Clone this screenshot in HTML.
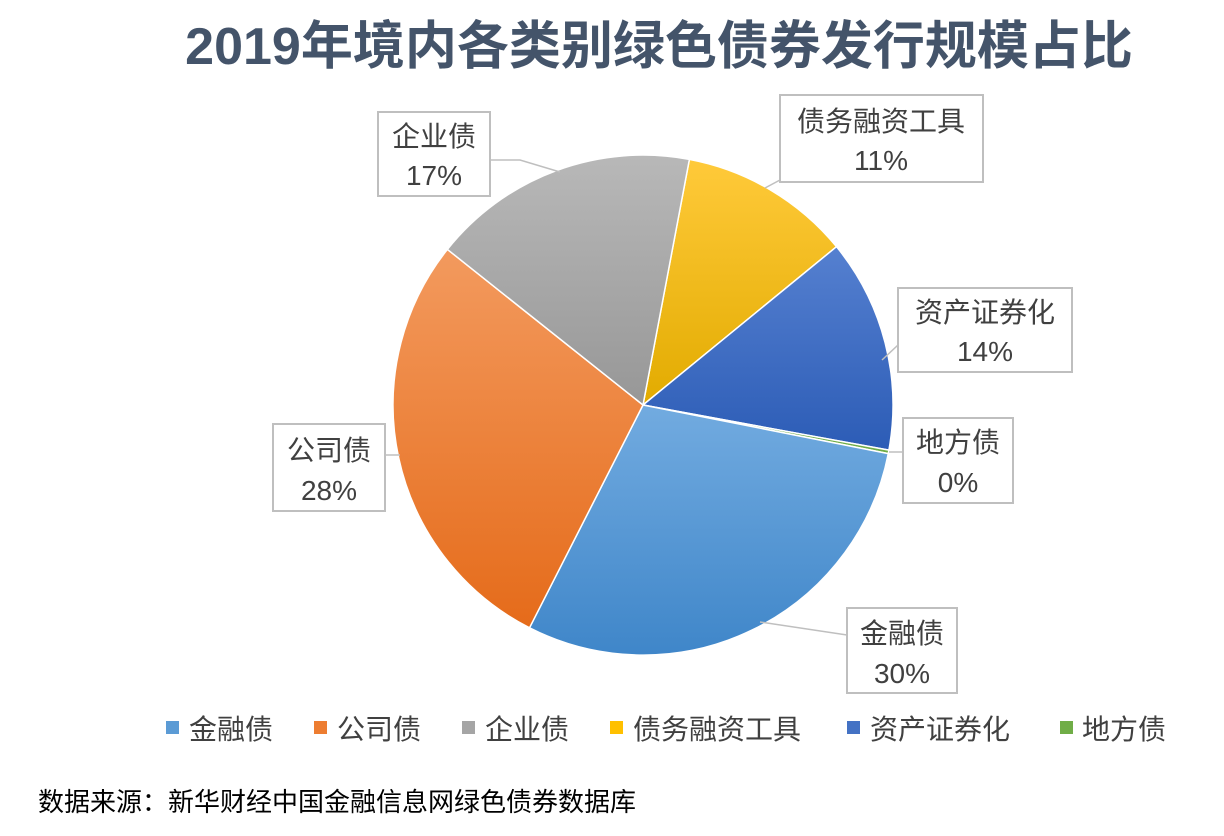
<!DOCTYPE html>
<html><head><meta charset="utf-8"><style>
body{margin:0;background:#fff;width:1224px;height:836px;overflow:hidden}
svg{display:block}
text{font-family:"Liberation Sans","Noto Sans CJK SC",sans-serif}
</style></head><body>
<svg width="1224" height="836" viewBox="0 0 1224 836">
<defs>
<linearGradient id="gb" x1="0" y1="0" x2="0" y2="1"><stop offset="0" stop-color="#72abe0"/><stop offset="1" stop-color="#3f86c9"/></linearGradient>
<linearGradient id="go" x1="0" y1="0" x2="0" y2="1"><stop offset="0" stop-color="#f39a5e"/><stop offset="1" stop-color="#e56b1a"/></linearGradient>
<linearGradient id="gg" x1="0" y1="0" x2="0" y2="1"><stop offset="0" stop-color="#b8b8b8"/><stop offset="1" stop-color="#979797"/></linearGradient>
<linearGradient id="gy" x1="0" y1="0" x2="0" y2="1"><stop offset="0" stop-color="#ffca3a"/><stop offset="1" stop-color="#e2ab00"/></linearGradient>
<linearGradient id="gd" x1="0" y1="0" x2="0" y2="1"><stop offset="0" stop-color="#5580d0"/><stop offset="1" stop-color="#2c5cb6"/></linearGradient>
</defs>
<text x="659" y="64" text-anchor="middle" font-size="52" font-weight="bold" fill="#44546a">2019年境内各类别绿色债券发行规模占比</text>
<g stroke="#fff" stroke-width="1.5">
<path d="M643,405 L689.4,159.4 A250,250 0 0 1 836.5,246.7 Z" fill="url(#gy)"/>
<path d="M643,405 L836.5,246.7 A250,250 0 0 1 888.9,450.1 Z" fill="url(#gd)"/>
<path d="M643,405 L888.9,450.1 A250,250 0 0 1 888.3,453.6 Z" fill="#70ad47"/>
<path d="M643,405 L888.3,453.6 A250,250 0 0 1 529.5,627.8 Z" fill="url(#gb)"/>
<path d="M643,405 L529.5,627.8 A250,250 0 0 1 447.4,249.4 Z" fill="url(#go)"/>
<path d="M643,405 L447.4,249.4 A250,250 0 0 1 689.4,159.4 Z" fill="url(#gg)"/>
</g>
<g stroke="#bfbfbf" stroke-width="1.5" fill="none">
<polyline points="490,160 520,160 560,172"/>
<polyline points="780,180 765,188"/>
<polyline points="898,345 882,360"/>
<polyline points="903,452 889,452"/>
<polyline points="385,455 400,455"/>
<polyline points="847,635 760,622"/>
</g>
<g fill="#fff" stroke="#bfbfbf" stroke-width="2">
<rect x="378" y="112" width="112" height="84"/>
<rect x="780" y="95" width="203" height="87"/>
<rect x="898" y="288" width="174" height="84"/>
<rect x="903" y="418" width="110" height="85"/>
<rect x="273" y="424" width="112" height="87"/>
<rect x="847" y="608" width="110" height="85"/>
</g>
<g font-size="28" fill="#404040" text-anchor="middle">
<text x="434" y="146">企业债</text><text x="434" y="185">17%</text>
<text x="881" y="131">债务融资工具</text><text x="881" y="170">11%</text>
<text x="985" y="322">资产证券化</text><text x="985" y="361">14%</text>
<text x="958" y="452">地方债</text><text x="958" y="492">0%</text>
<text x="329" y="460">公司债</text><text x="329" y="500">28%</text>
<text x="902" y="643">金融债</text><text x="902" y="683">30%</text>
</g>
<g font-size="28" fill="#404040">
<rect x="166" y="721" width="13" height="13" fill="#5b9bd5"/><text x="189" y="739">金融债</text>
<rect x="314" y="721" width="13" height="13" fill="#ed7d31"/><text x="337" y="739">公司债</text>
<rect x="462" y="721" width="13" height="13" fill="#a5a5a5"/><text x="485" y="739">企业债</text>
<rect x="610" y="721" width="13" height="13" fill="#ffc000"/><text x="633" y="739">债务融资工具</text>
<rect x="847" y="721" width="13" height="13" fill="#4472c4"/><text x="870" y="739">资产证券化</text>
<rect x="1060" y="721" width="13" height="13" fill="#70ad47"/><text x="1082" y="739">地方债</text>
</g>
<text x="38" y="811" font-size="26" fill="#000">数据来源：新华财经中国金融信息网绿色债券数据库</text>
</svg>
</body></html>
